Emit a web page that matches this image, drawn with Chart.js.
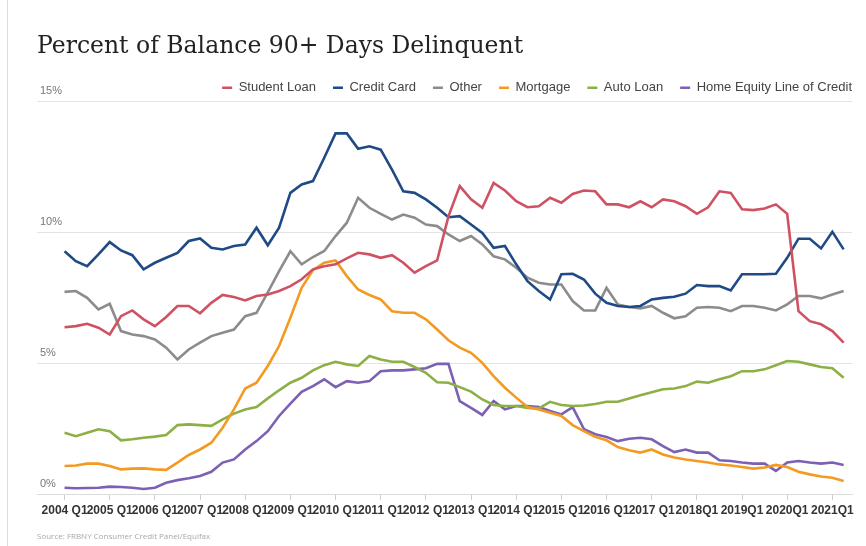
<!DOCTYPE html>
<html>
<head>
<meta charset="utf-8">
<script src="https://cdn.jsdelivr.net/npm/chart.js@4.4.0/dist/chart.umd.min.js"></script>
<style>
  html, body { margin: 0; padding: 0; background: #fff; }
  #wrap { position: relative; width: 866px; height: 546px; }
  #edge { position: absolute; left: 7px; top: 0; width: 1px; height: 546px; background: #dcdcdc; }
</style>
</head>
<body>
<div id="wrap">
  <div id="edge"></div>
  <canvas id="myChart" width="866" height="546"></canvas>
</div>
<script>
// Quarterly data, 2004 Q1 .. 2021 Q2 (70 quarters), percent of balance 90+ days delinquent
const tickLabels = ['2004 Q1', '2005 Q1', '2006 Q1', '2007 Q1', '2008 Q1', '2009 Q1', '2010 Q1', '2011 Q1', '2012 Q1',
  '2013 Q1', '2014 Q1', '2015 Q1', '2016 Q1', '2017 Q1', '2018Q1', '2019Q1', '2020Q1', '2021Q1'];
const tickPos = [0, 4, 8, 12, 16, 20, 24, 28, 32, 36, 40, 44, 48, 52, 56, 60, 64, 68];

const studentLoan = [6.37, 6.41, 6.50, 6.35, 6.09, 6.79, 7.01, 6.67, 6.41, 6.76,
  7.18, 7.18, 6.90, 7.30, 7.60, 7.52, 7.39, 7.56, 7.62, 7.75,
  7.94, 8.20, 8.58, 8.70, 8.77, 9.00, 9.21, 9.15, 9.02, 9.12,
  8.83, 8.45, 8.70, 8.92, 10.6, 11.76, 11.25, 10.93, 11.88, 11.59,
  11.18, 10.95, 10.99, 11.31, 11.12, 11.46, 11.59, 11.56, 11.06, 11.06,
  10.95, 11.18, 10.95, 11.25, 11.18, 10.99, 10.70, 10.95, 11.56, 11.50,
  10.87, 10.84, 10.90, 11.06, 10.70, 6.98, 6.60, 6.48, 6.22, 5.78];

const creditCard = [9.27, 8.89, 8.70, 9.15, 9.62, 9.30, 9.12, 8.58, 8.83, 9.02,
  9.21, 9.66, 9.76, 9.40, 9.34, 9.47, 9.53, 10.17, 9.50, 10.17,
  11.50, 11.82, 11.95, 12.84, 13.77, 13.77, 13.18, 13.28, 13.15, 12.39,
  11.56, 11.50, 11.25, 10.93, 10.57, 10.61, 10.29, 9.97, 9.40, 9.47,
  8.77, 8.13, 7.75, 7.43, 8.39, 8.41, 8.19, 7.65, 7.30, 7.18,
  7.14, 7.18, 7.43, 7.49, 7.53, 7.65, 7.98, 7.94, 7.94, 7.77,
  8.39, 8.39, 8.39, 8.41, 9.02, 9.75, 9.75, 9.38, 10.01, 9.34];

const other = [7.72, 7.75, 7.49, 7.05, 7.26, 6.22, 6.09, 6.03, 5.90, 5.59,
  5.14, 5.52, 5.78, 6.03, 6.16, 6.28, 6.79, 6.92, 7.70, 8.51,
  9.27, 8.77, 9.05, 9.28, 9.85, 10.36, 11.31, 10.93, 10.70, 10.48,
  10.67, 10.55, 10.29, 10.23, 9.91, 9.66, 9.85, 9.53, 9.08, 8.96,
  8.64, 8.26, 8.07, 8.00, 8.00, 7.37, 7.01, 7.01, 7.87, 7.24,
  7.14, 7.09, 7.18, 6.92, 6.71, 6.79, 7.11, 7.14, 7.11, 6.98,
  7.18, 7.18, 7.11, 7.01, 7.24, 7.56, 7.56, 7.47, 7.62, 7.75];

const mortgage = [1.07, 1.09, 1.16, 1.16, 1.07, 0.94, 0.97, 0.98, 0.94, 0.92,
  1.20, 1.49, 1.70, 1.96, 2.53, 3.23, 4.03, 4.25, 4.89, 5.65,
  6.73, 7.87, 8.55, 8.83, 8.92, 8.32, 7.81, 7.60, 7.43, 6.98,
  6.92, 6.92, 6.67, 6.28, 5.87, 5.59, 5.39, 5.01, 4.50, 4.06,
  3.68, 3.32, 3.23, 3.10, 2.98, 2.63, 2.40, 2.18, 2.05, 1.79,
  1.67, 1.58, 1.70, 1.51, 1.39, 1.32, 1.26, 1.20, 1.13, 1.09,
  1.03, 0.97, 1.01, 1.11, 1.03, 0.85, 0.75, 0.67, 0.62, 0.50];

const autoLoan = [2.34, 2.21, 2.34, 2.47, 2.40, 2.05, 2.09, 2.15, 2.19, 2.25,
  2.63, 2.66, 2.63, 2.60, 2.85, 3.07, 3.23, 3.32, 3.65, 3.96,
  4.25, 4.44, 4.72, 4.92, 5.05, 4.95, 4.89, 5.27, 5.14, 5.05,
  5.05, 4.85, 4.63, 4.27, 4.25, 4.08, 3.91, 3.61, 3.40, 3.36,
  3.36, 3.29, 3.27, 3.52, 3.40, 3.36, 3.38, 3.44, 3.52, 3.52,
  3.65, 3.77, 3.89, 4.00, 4.03, 4.12, 4.29, 4.25, 4.38, 4.50,
  4.69, 4.69, 4.76, 4.92, 5.08, 5.05, 4.95, 4.85, 4.80, 4.44];

const heloc = [0.24, 0.22, 0.23, 0.24, 0.28, 0.27, 0.24, 0.19, 0.24, 0.43,
  0.53, 0.60, 0.69, 0.85, 1.20, 1.32, 1.70, 2.02, 2.40, 2.98,
  3.45, 3.90, 4.12, 4.38, 4.08, 4.31, 4.25, 4.31, 4.69, 4.72,
  4.72, 4.76, 4.80, 4.97, 4.97, 3.55, 3.29, 3.02, 3.55, 3.23,
  3.36, 3.36, 3.32, 3.17, 3.04, 3.32, 2.48, 2.28, 2.18, 2.02,
  2.11, 2.15, 2.09, 1.83, 1.60, 1.70, 1.58, 1.58, 1.29, 1.26,
  1.20, 1.16, 1.16, 0.88, 1.20, 1.26, 1.20, 1.16, 1.20, 1.11];

const seriesNames = ['Student Loan', 'Credit Card', 'Other', 'Mortgage', 'Auto Loan', 'Home Equity Line of Credit'];
const seriesValues = [studentLoan, creditCard, other, mortgage, autoLoan, heloc];
const seriesColors = ['#cf5262', '#1f4a86', '#8c8c8c', '#f39a22', '#8cb046', '#7c60b4'];

// x is the quarter index so the plot can run a bit wider than the data
function toPoints(values) {
  return values.map((v, i) => ({ x: i, y: v }));
}

const datasets = seriesNames.map((name, k) => ({
  label: name,
  data: toPoints(seriesValues[k]),
  borderColor: seriesColors[k],
  backgroundColor: seriesColors[k],
  borderWidth: 2.6,
  pointRadius: 0,
  tension: 0
}));

// nudge the legend: it sits further right and a bit lower than chart.js puts it
const legendShift = {
  id: 'legendShift',
  afterUpdate(chart) {
    const lg = chart.legend;
    lg.left += 17; lg.right += 17;
    lg.top += 3; lg.bottom += 3;
  }
};

const config = {
  type: 'line',
  data: { datasets: datasets },
  options: {
    responsive: false,
    animation: false,
    layout: { padding: { left: 37, right: 14, top: 0, bottom: 0 } },
    plugins: {
      title: {
        display: true,
        text: 'Percent of Balance 90+ Days Delinquent',
        align: 'start',
        color: '#222',
        font: { family: 'DejaVu Serif', size: 23.5, weight: 'normal' },
        padding: { top: 33, bottom: 0 }
      },
      subtitle: {
        display: true,
        position: 'bottom',
        align: 'start',
        text: 'Source: FRBNY Consumer Credit Panel/Equifax',
        color: '#a8a8a8',
        font: { family: 'Open Sans', size: 8 },
        padding: { top: 12, bottom: 4 }
      },
      legend: {
        position: 'top',
        align: 'end',
        labels: {
          usePointStyle: true,
          pointStyle: 'line',
          pointStyleWidth: 10,
          boxHeight: 8,
          color: '#444',
          font: { family: 'Liberation Sans', size: 13 },
          padding: 17
        }
      },
      tooltip: { enabled: false }
    },
    scales: {
      x: {
        type: 'linear',
        min: -2.44,
        max: 69.74,
        afterBuildTicks: (scale) => { scale.ticks = tickPos.map(v => ({ value: v })); },
        ticks: {
          callback: (v) => tickLabels[tickPos.indexOf(v)],
          autoSkip: false,
          maxRotation: 0,
          minRotation: 0,
          color: '#333',
          font: { family: 'Liberation Sans', size: 12, weight: 'bold' },
          padding: 3
        },
        grid: { drawOnChartArea: false, tickLength: 6, color: '#cfcfcf' },
        border: { color: '#dcdcdc' }
      },
      y: {
        min: 0,
        max: 15,
        afterBuildTicks: (scale) => { scale.ticks = [0, 5, 10, 15].map(v => ({ value: v })); },
        afterFit: (scale) => { scale.width = 0; },
        ticks: {
          mirror: true,
          labelOffset: -10,
          padding: 3,
          callback: (v) => v + '%',
          color: '#777',
          font: { family: 'Liberation Sans', size: 11 }
        },
        grid: { color: '#e4e4e4', drawTicks: false },
        border: { display: false }
      }
    }
  },
  plugins: [legendShift]
};

var myChart = new Chart(document.getElementById('myChart'), config);
</script>
</body>
</html>
